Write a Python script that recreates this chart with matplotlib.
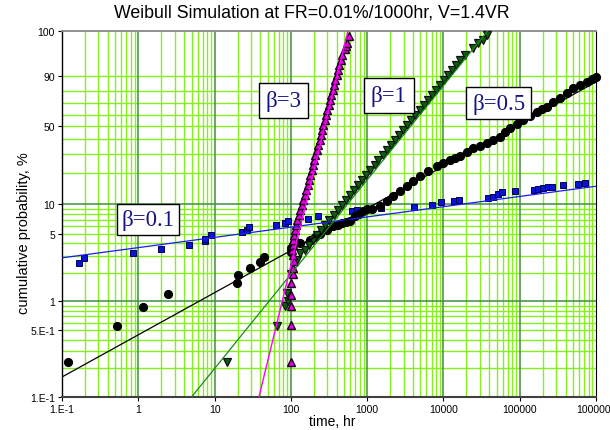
import numpy as np
import matplotlib.pyplot as plt
from matplotlib.ticker import FixedLocator, FixedFormatter, NullLocator

# ===================== DATOS =====================
# beta = 0.1  (cuadrados azules)
b01_t = [0.169, 0.196, 0.845, 2.0, 4.58, 7.41, 7.41, 9.06, 22.7, 26.8, 28.5, 63.8,
         83.7, 92.5, 169, 229, 626, 728, 985, 1517, 4142, 7000, 9270, 13860, 16110,
         37960, 44130, 51310, 57890, 86500, 155000, 175000, 203000, 236600, 262000,
         372000, 585000, 716000]
b01_F = [2.52, 2.84, 3.20, 3.52, 3.89, 4.21, 4.48, 4.85, 5.20, 5.54, 5.84, 6.22,
         6.52, 6.79, 7.16, 7.55, 8.48, 8.67, 8.96, 9.17, 9.44, 9.88, 10.5, 10.8, 11.1,
         11.6, 11.9, 12.5, 13.1, 13.6, 13.9, 14.2, 14.4, 14.6, 14.9,
         15.5, 15.8, 16.1]

# beta = 0.5  (circulos negros)
b05_t = [0.121, 0.521, 1.16, 2.47, 19.5, 20.5, 29.1, 39.4, 44.8, 99.4, 102, 131,
         178, 207, 240, 294, 359, 414, 463, 527, 595, 692, 781, 889, 985, 1156,
         1472, 1803, 2198, 2692, 3296, 4018, 4920, 6324, 8147, 9931, 12160, 14160,
         16440, 20140, 24600, 30060, 36810, 44980, 54950, 63970, 74470, 91000,
         111200, 136100, 166700, 193600, 225400, 274800, 336500, 412100, 502300,
         615200, 753400, 883100, 1.0e6]
b05_F = [0.233, 0.55, 0.88, 1.21, 1.54, 1.88, 2.24, 2.56, 2.88, 3.24, 3.60, 4.05,
         4.38, 4.70, 5.00, 5.47, 5.98, 6.22, 6.47, 6.60, 6.72, 7.55, 8.03, 8.48, 8.96, 9.02,
         9.51, 10.66, 11.94, 13.36, 14.93, 16.68, 18.60, 20.72, 23.03, 24.74, 26.5, 27.44,
         28.34, 30.83, 33.51, 35.17, 36.88, 39.27, 41.70, 44.95, 48.37, 51.76,
         55.39, 59.07, 62.70, 64.90, 67.1, 70.77, 74.4, 78.47, 82.3,
         84.68, 86.87, 88.55, 89.88]

# beta = 1  (triangulos verdes)
b1_t = [14.4, 66, 85, 90.8, 89, 102, 119, 131,
        153, 173, 196, 222, 251, 284, 321, 363, 411, 465,
        526, 595, 673, 762, 862, 975, 1104, 1250, 1409, 1596,
        1807, 2046, 2312, 2618, 2965, 3357, 3793, 4295, 4864, 5508,
        6209, 7031, 7943, 8995, 10190, 11530, 13030, 14760, 16710, 18920,
        24600, 28590, 33270, 36820]
b1_F = [0.233, 0.56, 0.90, 1.0, 1.23, 1.91, 2.73, 3.2,
        3.46, 3.89, 4.38, 4.92, 5.54, 6.22, 6.99, 7.85, 8.82, 9.89,
        11.08, 12.40, 13.86, 15.46, 17.30, 19.27, 21.49, 23.88, 26.51, 29.33,
        32.43, 35.72, 39.27, 43.00, 46.96, 51.09, 55.39, 59.75, 64.19, 68.59,
        72.91, 77.10, 81.03, 84.68, 87.94, 90.81, 93.22, 95.20, 96.75, 97.90,
        98.93, 99.41, 99.61, 99.81]

# beta = 3  (triangulos magenta)
b3_t = [99.4, 99.4, 100, 102, 100, 106, 106, 110, 107,
        105, 107, 108, 110, 114, 117, 122, 127, 133, 139,
        146, 152, 159, 166, 172, 179, 187, 194, 202, 210,
        219, 228, 238, 247, 257, 267, 279, 290, 302, 315,
        327, 340, 354, 369, 385, 400, 417, 433, 451, 470,
        516, 527, 548, 582]
b3_F = [0.233, 0.568, 0.90, 1.18, 1.57, 1.91, 2.24, 2.62, 3.07,
        3.46, 3.89, 4.38, 4.92, 5.54, 6.22, 6.99, 7.85, 8.82, 9.89,
        11.08, 12.40, 13.86, 15.46, 17.30, 19.27, 21.49, 23.88, 26.51, 29.33,
        32.43, 35.72, 39.27, 43.00, 46.96, 51.09, 55.39, 59.75, 64.19, 68.59,
        72.91, 77.10, 81.03, 84.68, 87.94, 90.81, 93.22, 95.20, 96.75, 97.90,
        98.8, 99.18, 99.43, 99.78]

# Rectas de ajuste (extremos)
fit01_t, fit01_F = [0.1, 1e6], [2.84, 15.0]
fit05_t, fit05_F = [0.1, 1e6], [0.162, 86.7]
fit1_t, fit1_F = [5.0, 38000], [0.1, 99.9]
fit3_t, fit3_F = [38.2, 560], [0.1, 99.9]

xticks = [0.1, 1, 10, 100, 1000, 10000, 100000, 1000000]
xlabels = ["1.E-1", "1", "10", "100", "1000", "10000", "100000", "1000000"]
yticks = [0.1, 0.5, 1, 5, 10, 50, 90, 99.9]
ylabels = ["1.E-1", "5.E-1", "1", "5", "10", "50", "90", "100"]


# ===================== ESCALA WEIBULL =====================
def fwd(p):
    p = np.clip(np.asarray(p, dtype=float), 1e-9, 99.99999)
    return np.log(-np.log(1 - p / 100.0))


def inv(w):
    return 100.0 * (1 - np.exp(-np.exp(w)))


SANS = "Liberation Sans"
LIGHT = "#86f01e"
DARK = "#3f903f"

fig = plt.figure(figsize=(6.1, 4.31), dpi=100)
ax = fig.add_axes([0.1016, 0.0766, 0.8754, 0.8492])
ax.set_xscale("log")
ax.set_yscale("function", functions=(fwd, inv))
ax.set_xlim(0.1, 1e6)
ax.set_ylim(0.1, 99.9)

# grilla
for d in [0.1, 1, 10, 100, 1000, 10000, 100000]:
    for k in range(2, 10):
        ax.axvline(k * d, color=LIGHT, lw=1.0, zorder=0)
for d in [1, 10, 100, 1000, 10000, 100000]:
    ax.axvline(d, color=DARK, lw=1.1, zorder=0.5)
for base in [0.1, 1, 10]:
    for k in range(2, 10):
        ax.axhline(k * base, color=LIGHT, lw=1.0, zorder=0)
for v in [1, 10]:
    ax.axhline(v, color=DARK, lw=1.1, zorder=0.5)

# puntos
ax.plot(b01_t, b01_F, ls="none", marker="s", ms=5.0, mfc="#0a14d8", mec="#000050",
        mew=0.7, zorder=3, clip_on=False)
ax.plot(b05_t, b05_F, ls="none", marker="o", ms=5.6, mfc="black", mec="black",
        zorder=3, clip_on=False)
ax.plot(b1_t, b1_F, ls="none", marker="v", ms=6.0, mfc="#0b5e0b", mec="#101010",
        mew=0.9, zorder=3, clip_on=False)
ax.plot(b3_t, b3_F, ls="none", marker="^", ms=6.0, mfc="#e000e0", mec="#200020",
        mew=1.0, zorder=3, clip_on=False)

# rectas
ax.plot(fit01_t, fit01_F, color="#1a1aff", lw=0.9, zorder=4)
ax.plot(fit05_t, fit05_F, color="black", lw=0.9, zorder=4)
ax.plot(fit1_t, fit1_F, color="#178a17", lw=0.9, zorder=4)
ax.plot(fit3_t, fit3_F, color="#ff00ff", lw=1.0, zorder=4)

# ejes
ax.xaxis.set_major_locator(FixedLocator(xticks))
ax.xaxis.set_major_formatter(FixedFormatter(xlabels))
ax.xaxis.set_minor_locator(NullLocator())
ax.yaxis.set_major_locator(FixedLocator(yticks))
ax.yaxis.set_major_formatter(FixedFormatter(ylabels))
ax.yaxis.set_minor_locator(NullLocator())
ax.tick_params(direction="out", length=3, width=0.8, labelsize=7.5, pad=2)
for lab in ax.get_xticklabels() + ax.get_yticklabels():
    lab.set_family(SANS)

ax.spines["left"].set_color("black")
ax.spines["left"].set_linewidth(1.0)
ax.spines["right"].set_color("black")
ax.spines["right"].set_linewidth(0.8)
ax.spines["bottom"].set_color("#404040")
ax.spines["bottom"].set_linewidth(1.5)
ax.spines["top"].set_color("#888888")
ax.spines["top"].set_linewidth(1.3)

# etiquetas beta
for txt, fx, fy, pad in [("β=0.1", 0.161, 0.485, 0.2), ("β=3", 0.415, 0.811, 0.3),
                         ("β=1", 0.612, 0.824, 0.3), ("β=0.5", 0.818, 0.803, 0.25)]:
    ax.text(fx, fy, txt, transform=ax.transAxes, ha="center", va="center",
            fontsize=16.5, family="Liberation Serif", color="#141480",
            bbox=dict(boxstyle="square,pad=%s" % pad, fc="white", ec="black", lw=1.0),
            zorder=6)

fig.text(0.511, 0.969, "Weibull Simulation at FR=0.01%/1000hr, V=1.4VR",
         ha="center", va="center", fontsize=12.8, family=SANS)
fig.text(0.039, 0.459, "cumulative probability, %", rotation=90,
         ha="center", va="center", fontsize=10.5, family=SANS)
fig.text(0.545, 0.022, "time, hr", ha="center", va="center",
         fontsize=10, family=SANS)

fig.savefig("out.png", dpi=100)
